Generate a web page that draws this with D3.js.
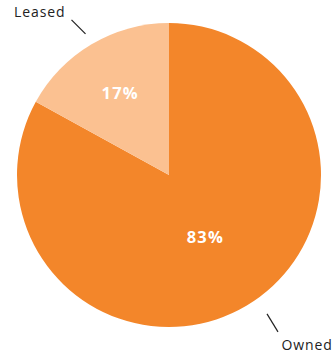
<!DOCTYPE html>
<html>
<head>
<meta charset="utf-8">
<script src="https://cdn.jsdelivr.net/npm/d3@7"></script>
<style>
  html, body { margin: 0; padding: 0; background: #fff; }
  svg { display: block; }
  text { font-family: "Open Sans", "Liberation Sans", sans-serif; }
</style>
</head>
<body>
<svg id="chart" width="333" height="357"></svg>
<script>
// Property ownership split
const categories = ["Owned", "Leased"];
const shares = [83, 17];
const sliceColors = ["#F3862A", "#FBC191"];

const width = 333, height = 357;
const cx = 169, cy = 175, radius = 152;

const svg = d3.select("#chart");
const g = svg.append("g").attr("transform", `translate(${cx},${cy})`);

const data = categories.map((c, i) => ({ name: c, value: shares[i], color: sliceColors[i] }));

const pie = d3.pie().value(d => d.value).sort(null);
const arcs = pie(data);

const arc = d3.arc().innerRadius(0).outerRadius(radius);

g.selectAll("path.slice")
  .data(arcs)
  .join("path")
  .attr("class", "slice")
  .attr("d", arc)
  .attr("fill", d => d.data.color);

const polar = (a, r) => [Math.sin(a) * r, -Math.cos(a) * r];
const mid = d => (d.startAngle + d.endAngle) / 2;

// Percentage labels inside slices
const pctRadius = { Owned: 0.47, Leased: 0.63 };
g.selectAll("text.pct")
  .data(arcs)
  .join("text")
  .attr("class", "pct")
  .attr("transform", d => `translate(${polar(mid(d), radius * pctRadius[d.data.name])})`)
  .attr("text-anchor", "middle")
  .attr("dominant-baseline", "central")
  .attr("fill", "#fff")
  .attr("font-weight", "bold")
  .attr("font-size", 16.5)
  .attr("letter-spacing", 1.2)
  .text(d => d.value + "%");

// Leader lines and outside category labels
const leader = {
  Owned:  { turn: -4.6 * Math.PI / 180, r: radius + 18, dx: 11, dy: 18, tx: 3.5, ty: 18, anchor: "start" },
  Leased: { turn: 0, r: radius + 12, dx: -14, dy: -14, tx: -6, ty: -3, anchor: "end" }
};
const leadStart = d => polar(mid(d) + leader[d.data.name].turn, leader[d.data.name].r);
const leadEnd = d => {
  const p = leadStart(d), L = leader[d.data.name];
  return [p[0] + L.dx, p[1] + L.dy];
};

g.selectAll("line.lead")
  .data(arcs)
  .join("line")
  .attr("class", "lead")
  .attr("x1", d => leadStart(d)[0])
  .attr("y1", d => leadStart(d)[1])
  .attr("x2", d => leadEnd(d)[0])
  .attr("y2", d => leadEnd(d)[1])
  .attr("stroke", "#222")
  .attr("stroke-width", 1.2);

g.selectAll("text.cat")
  .data(arcs)
  .join("text")
  .attr("class", "cat")
  .attr("x", d => leadEnd(d)[0] + leader[d.data.name].tx)
  .attr("y", d => leadEnd(d)[1] + leader[d.data.name].ty)
  .attr("text-anchor", d => leader[d.data.name].anchor)
  .attr("fill", "#222")
  .attr("font-size", 14)
  .attr("letter-spacing", 0.9)
  .text(d => d.data.name);
</script>
</body>
</html>
